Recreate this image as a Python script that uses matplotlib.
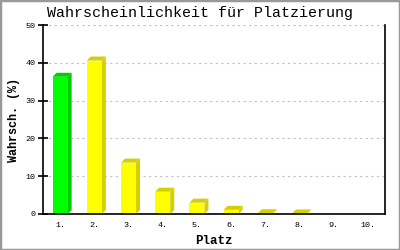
import numpy as np
import matplotlib
matplotlib.use('Agg')
import matplotlib.pyplot as plt
from matplotlib.patches import Polygon, Rectangle

# Daten
plaetze = ['1.', '2.', '3.', '4.', '5.', '6.', '7.', '8.', '9.', '10.']
wahrsch = [36.3, 40.6, 13.6, 5.9, 3.0, 1.1, 0.2, 0.15, 0.0, 0.0]
front_col = ['#00ff00'] + ['#ffff00'] * 9
side_col = ['#00cc00'] + ['#d4d000'] * 9
y_ticks = [0, 10, 20, 30, 40, 50]

mono = 'Liberation Mono'

fig = plt.figure(figsize=(4, 2.5), dpi=100)
ax = fig.add_axes([43 / 400, 36 / 250, 342 / 400, 189 / 250])

x = np.arange(len(plaetze))
width = 0.44
ax.set_xlim(-0.5, len(plaetze) - 0.5)
ax.set_ylim(0, 50)

# 3D-Versatz in Datenkoordinaten (ca. 4 px)
dx = 4 * (len(plaetze)) / 342
dy = 4 * 50 / 189

for xi, v, fc, sc in zip(x, wahrsch, front_col, side_col):
    if v <= 0:
        continue
    l, r = xi - width / 2, xi + width / 2
    side = Polygon([(r, 0), (r + dx, dy), (r + dx, v + dy), (r, v)],
                   closed=True, facecolor=sc, edgecolor='none', zorder=3)
    top = Polygon([(l, v), (l + dx, v + dy), (r + dx, v + dy), (r, v)],
                  closed=True, facecolor=sc, edgecolor='none', zorder=3)
    ax.add_patch(side)
    ax.add_patch(top)
ax.bar(x, wahrsch, width=width, color=front_col, zorder=4, linewidth=0)

# Gitter
for t in y_ticks[1:]:
    ax.axhline(t, color='#c0c0c0', linestyle=(0, (2, 3)), linewidth=0.8, zorder=1)

ax.spines['top'].set_visible(False)
for s in ['left', 'right', 'bottom']:
    ax.spines[s].set_linewidth(1.2)
    ax.spines[s].set_zorder(5)

ax.set_yticks(y_ticks)
ax.set_yticklabels([str(t) for t in y_ticks], fontfamily=mono, fontsize=6)
ax.tick_params(axis='y', direction='inout', length=7, width=1.2, pad=2)
ax.set_xticks(x)
ax.set_xticklabels(plaetze, fontfamily=mono, fontsize=6)
ax.tick_params(axis='x', length=0, pad=6)

ax.set_xlabel('Platz', fontfamily=mono, fontsize=9, fontweight='bold', labelpad=4)
ax.set_ylabel('Wahrsch. (%)', fontfamily=mono, fontsize=8.5, fontweight='bold', labelpad=4)

fig.text(0.5, 1 - 13 / 250, 'Wahrscheinlichkeit für Platzierung', ha='center', va='center',
         fontfamily=mono, fontsize=10.8)

fig.patches.append(Rectangle((0, 0), 1, 1, transform=fig.transFigure, fill=False,
                             edgecolor='#999999', linewidth=2.5))

fig.savefig('out.png', dpi=100)
